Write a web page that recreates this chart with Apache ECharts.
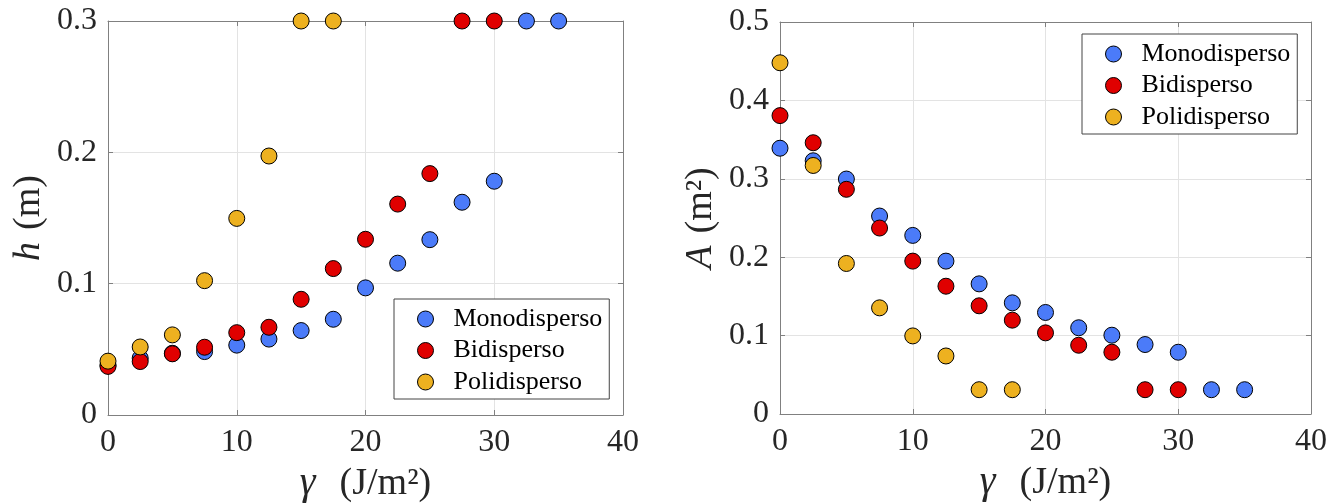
<!DOCTYPE html>
<html>
<head>
<meta charset="utf-8">
<script src="https://cdn.jsdelivr.net/npm/echarts@6/dist/echarts.min.js"></script>
<style>
html,body{margin:0;padding:0;background:#fff;}
#chart{width:1340px;height:504px;}
</style>
</head>
<body>
<div id="chart"></div>
<script>
// gamma values (J/m^2)
const gammaMono = [0, 2.5, 5, 7.5, 10, 12.5, 15, 17.5, 20, 22.5, 25, 27.5, 30, 32.5, 35];
const gammaBi   = [0, 2.5, 5, 7.5, 10, 12.5, 15, 17.5, 20, 22.5, 25, 27.5, 30];
const gammaPoli = [0, 2.5, 5, 7.5, 10, 12.5, 15, 17.5];

// left panel: h (m)
const hMono = [0.038, 0.0433, 0.047, 0.0483, 0.0532, 0.0578, 0.0643, 0.0729, 0.0968, 0.1156, 0.1335, 0.162, 0.178, 0.3, 0.3];
const hBi   = [0.037, 0.0407, 0.0466, 0.0516, 0.0627, 0.0668, 0.0881, 0.1115, 0.1338, 0.1606, 0.1838, 0.3, 0.3];
const hPoli = [0.041, 0.0518, 0.061, 0.1023, 0.1497, 0.1972, 0.3, 0.3];

// right panel: A (m^2)
const aMono = [0.339, 0.323, 0.2997, 0.2525, 0.2278, 0.195, 0.166, 0.1418, 0.1295, 0.110, 0.1005, 0.0886, 0.0788, 0.031, 0.031];
const aBi   = [0.3806, 0.346, 0.2866, 0.2372, 0.195, 0.163, 0.138, 0.1197, 0.1035, 0.0877, 0.0788, 0.031, 0.031];
const aPoli = [0.448, 0.317, 0.192, 0.1354, 0.0996, 0.074, 0.031, 0.031];

const seriesNames = ['Monodisperso', 'Bidisperso', 'Polidisperso'];
const seriesColors = ['#4b7bf9', '#e00000', '#edb120'];

const xTicks = [0, 10, 20, 30, 40];
const hTicks = [0, 0.1, 0.2, 0.3];
const aTicks = [0, 0.1, 0.2, 0.3, 0.4, 0.5];

const SERIF = 'Liberation Serif';
const AX = '#808080';
const GRIDC = '#e3e3e3';
const TXT = '#262626';

function zip(xs, ys) { return xs.map((x, i) => [x, ys[i]]); }
function fmt(v) { return v === 0 ? '0' : (Math.abs(v - Math.round(v)) < 1e-9 ? String(Math.round(v)) : v.toFixed(1)); }

const nameRich = {
  i: { fontFamily: SERIF, fontSize: 38, fontStyle: 'italic', color: TXT },
  g: { fontFamily: SERIF, fontSize: 40, fontStyle: 'italic', color: TXT },
  s: { fontFamily: SERIF, fontSize: 38, width: 24 },
  t: { fontFamily: SERIF, fontSize: 38, width: 12 }
};

function mainX(gi, name) {
  return {
    type: 'value', gridIndex: gi, position: 'bottom',
    min: xTicks[0], max: xTicks[xTicks.length - 1], interval: xTicks[1] - xTicks[0],
    axisLine: { show: true, onZero: false, lineStyle: { color: AX, width: 1 } },
    axisTick: { show: true, inside: true, length: 5, lineStyle: { color: AX } },
    splitLine: { show: true, lineStyle: { color: GRIDC, width: 1 } },
    axisLabel: { fontFamily: SERIF, fontSize: 32, color: TXT, margin: 12, formatter: fmt },
    name: name, nameLocation: 'middle', nameGap: 46,
    nameTextStyle: { fontFamily: SERIF, fontSize: 38, color: TXT, rich: nameRich }
  };
}
function topX(gi) {
  return {
    type: 'value', gridIndex: gi, position: 'top',
    min: xTicks[0], max: xTicks[xTicks.length - 1], interval: xTicks[1] - xTicks[0],
    axisLine: { show: true, onZero: false, lineStyle: { color: AX, width: 1 } },
    axisTick: { show: true, inside: true, length: 5, lineStyle: { color: AX } },
    splitLine: { show: false }, axisLabel: { show: false }
  };
}
function mainY(gi, ticks, name) {
  return {
    type: 'value', gridIndex: gi, position: 'left',
    min: ticks[0], max: ticks[ticks.length - 1], interval: 0.1,
    axisLine: { show: true, onZero: false, lineStyle: { color: AX, width: 1 } },
    axisTick: { show: true, inside: true, length: 5, lineStyle: { color: AX } },
    splitLine: { show: true, lineStyle: { color: GRIDC, width: 1 } },
    axisLabel: { fontFamily: SERIF, fontSize: 32, color: TXT, margin: 11, formatter: fmt },
    name: name, nameLocation: 'middle', nameGap: 60, nameRotate: 90,
    nameTextStyle: { fontFamily: SERIF, fontSize: 38, color: TXT, rich: nameRich }
  };
}
function rightY(gi, ticks) {
  return {
    type: 'value', gridIndex: gi, position: 'right',
    min: ticks[0], max: ticks[ticks.length - 1], interval: 0.1,
    axisLine: { show: true, onZero: false, lineStyle: { color: AX, width: 1 } },
    axisTick: { show: true, inside: true, length: 5, lineStyle: { color: AX } },
    splitLine: { show: false }, axisLabel: { show: false }
  };
}
function sc(name, color, data, xi, yi) {
  return {
    type: 'scatter', name: name, xAxisIndex: xi, yAxisIndex: yi,
    data: data, symbol: 'circle', symbolSize: 16, clip: false,
    itemStyle: { color: color, borderColor: '#000', borderWidth: 1, opacity: 1 },
    emphasis: { disabled: true }
  };
}
function legend(left, top) {
  return {
    data: seriesNames, orient: 'vertical', left: left, top: top,
    icon: 'circle', itemWidth: 16, itemHeight: 16, itemGap: 3.5,
    padding: [6, 7, 3, 23],
    borderColor: '#444', borderWidth: 1, backgroundColor: '#fff',
    itemStyle: { borderColor: '#000', borderWidth: 1 },
    textStyle: { fontFamily: SERIF, fontSize: 26, color: '#000', lineHeight: 28, padding: [0, 0, 0, 15] },
    selectedMode: false
  };
}

const chart = echarts.init(document.getElementById('chart'), null, { renderer: 'canvas' });
chart.setOption({
  backgroundColor: '#fff',
  animation: false,
  color: seriesColors,
  grid: [
    { left: 108, top: 21, width: 515, height: 394, containLabel: false, outerBoundsMode: 'none' },
    { left: 780, top: 22, width: 531, height: 392, containLabel: false, outerBoundsMode: 'none' }
  ],
  xAxis: [mainX(0, '{g|γ}{s| }(J/m²)'), topX(0), mainX(1, '{g|γ}{s| }(J/m²)'), topX(1)],
  yAxis: [mainY(0, hTicks, '{i|h}{t| }(m)'), rightY(0, hTicks), mainY(1, aTicks, '{i|A}{t| }(m²)'), rightY(1, aTicks)],
  legend: [legend(394, 299), legend(1082, 34)],
  series: [
    sc(seriesNames[0], seriesColors[0], zip(gammaMono, hMono), 0, 0),
    sc(seriesNames[1], seriesColors[1], zip(gammaBi, hBi), 0, 0),
    sc(seriesNames[2], seriesColors[2], zip(gammaPoli, hPoli), 0, 0),
    sc(seriesNames[0], seriesColors[0], zip(gammaMono, aMono), 2, 2),
    sc(seriesNames[1], seriesColors[1], zip(gammaBi, aBi), 2, 2),
    sc(seriesNames[2], seriesColors[2], zip(gammaPoli, aPoli), 2, 2)
  ]
});
</script>
</body>
</html>
